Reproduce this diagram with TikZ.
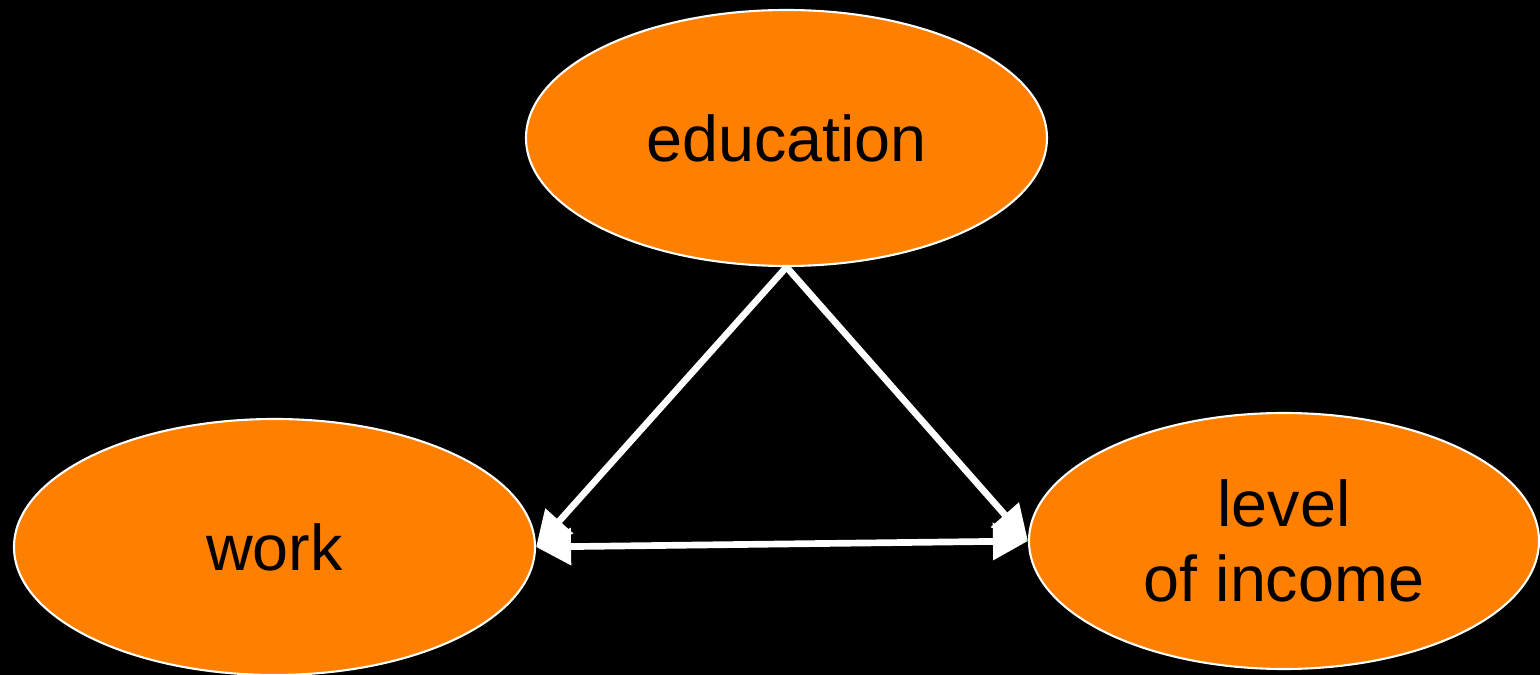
\documentclass[tikz,border=0pt]{standalone}
\usepackage{fontspec}
\setmainfont{Liberation Sans}
\usetikzlibrary{shapes.geometric,arrows.meta}
\definecolor{boxorange}{HTML}{FF7F00}
\tikzset{
  topic/.style={ellipse, draw=white, line width=0.6pt, fill=boxorange, inner sep=0pt,
    minimum width=5.21cm, minimum height=2.56cm, align=center,
    font=\fontsize{18.4}{21.3}\selectfont},
  link/.style={white, line width=1.9pt, -{Triangle[length=0.35cm,width=0.36cm]}}
}
\begin{document}
\begin{tikzpicture}
		\fill[black] (0,0) rectangle (15.4,6.75);
		\useasboundingbox (0,0) rectangle (15.4,6.75);
		
		\node[topic] (edu) at (7.865,5.37) {education};
		\node[topic] (work) at (2.745,1.28) {work};
		\node[topic, minimum width=5.1cm] (income) at (12.84,1.34) {level\\of income};
		
		\draw[link] (edu.south) -- (work.east);
		\draw[link] (edu.south) -- (income.west);
		\draw[link, {Triangle[length=0.35cm,width=0.36cm]}-{Triangle[length=0.35cm,width=0.36cm]}] (work.east) -- (income.west);
\end{tikzpicture}
\end{document}
